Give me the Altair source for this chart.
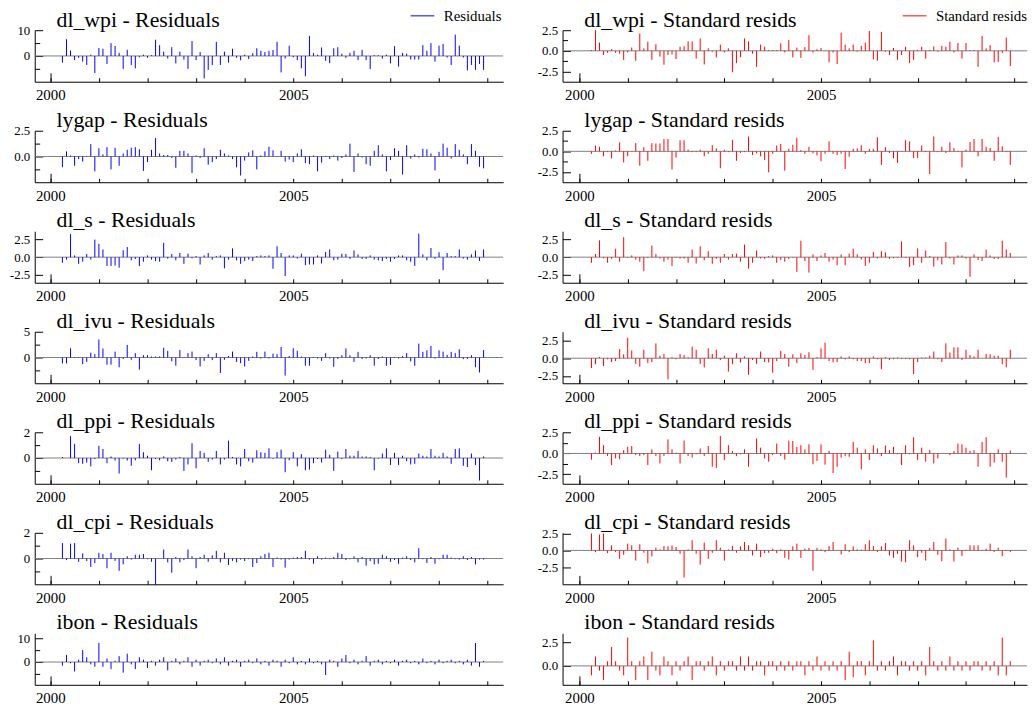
import altair as alt
import pandas as pd

FIRST_YEAR = 2000
FIRST_MONTH = 4

dl_wpi_res = [-2.6, 6.5, 2.1, -1.6, -0.7, -2.2, -3.5, 0.5, -6.6, 3.1,
              2.8, -3.1, 5.0, 3.9, 1.2, -5.0, 2.4, -3.5, -4.8, -0.5,
              0.5, -0.7, 0.3, 6.3, 4.2, 1.7, -1.0, 3.4, -2.9, 1.7,
              -1.4, -5.0, 5.8, -1.6, 1.5, -8.7, -5.4, -3.5, 5.5, -3.5,
              1.7, -2.6, 2.8, -0.7, -1.7, 0.5, -1.2, 1.1, 3.0, 2.0,
              1.5, 2.0, 2.3, 5.5, -6.4, -1.0, 4.0, -0.5, -1.6, -4.8,
              -7.9, 7.8, 1.1, 0.5, 3.3, -1.9, -2.8, 3.0, 3.4, 0.9,
              -0.7, 1.2, 2.0, -1.6, 2.4, -1.6, -5.1, 0.3, 0.3, -1.0,
              0.5, -2.9, 3.8, -4.1, 1.2, 0.9, -1.4, -1.4, -1.4, 4.2,
              2.0, 5.0, -2.2, 4.0, 4.7, -0.6, -3.5, 8.3, 4.0, -0.6,
              -5.6, -3.5, -5.4, -3.1, -5.4]
dl_wpi_std = [0.1, 2.5, 1.0, -0.5, -0.25, 0.2, -0.25, -0.35, -1.1, -0.2,
              0.4, -1.2, 2.1, 0.3, 1.1, -1.1, 0.8, -0.7, -1.7, -0.5,
              -0.45, -1.0, 0.5, 0.55, 1.15, 1.15, -0.95, 1.5, -1.65, 0.3,
              -0.1, -0.8, 0.75, -0.2, 0.3, -2.6, -1.5, -0.8, 1.5, 1.15,
              -0.35, -1.95, 0.75, 0.5, 0.1, 0.1, 0.1, 0.9, -0.2, 1.3,
              -0.8, 0.4, -0.85, 0.45, 1.9, -0.2, 0.2, 0.35, 0.05, -1.4,
              -0.2, -1.6, 2.2, 0.75, 0.3, 0.75, -0.1, 0.6, 1.0, 2.4,
              -1.05, -1.2, 2.3, -0.1, -0.5, 0.35, -1.1, -0.5, 0.5, -1.5,
              -1.1, 0.1, 0.5, -0.95, 0.1, 0.55, -0.1, 0.6, 0.5, 1.1,
              -0.2, 0.95, -0.95, 0.95, 0.1, 0.1, -1.95, 1.8, 0.3, 0.7,
              -1.4, -1.35, -0.25, 1.6, -1.85]
lygap_res = [-1.05, 0.5, 0.1, -0.9, -0.25, -0.5, 0.05, 1.2, -1.45, 0.8,
             0.2, 0.9, -1.25, 0.85, -0.9, 0.3, 0.65, 0.85, 0.9, 0.7,
             -1.4, -0.55, 0.65, 1.8, 0.3, 0.15, 0.15, -0.15, -1.1, 0.55,
             0.55, 0.3, -1.6, 0.1, -0.15, 0.8, -0.8, -0.55, -0.25, 0.65,
             0.3, 0.1, -0.25, -1.05, -1.85, -0.4, 0.4, 0.6, -1.25, 0.1,
             0.5, 0.95, 0.6, 0.05, 0.55, -0.5, -0.3, -0.55, 0.3, 0.7,
             -0.65, -0.75, 0.1, -1.45, -0.6, 0.05, -0.25, 0.1, -0.4, -0.15,
             0.2, 1.25, -1.5, 0.3, -0.1, -0.75, -0.9, 0.55, 1.1, 0.2,
             -1.45, -0.35, 0.8, 0.55, -1.75, 1.1, -0.2, 0.2, -0.1, 0.75,
             0.7, 0.3, -1.35, 0.45, 1.25, 0.85, -0.2, 1.2, 0.65, 0.2,
             -0.75, 1.2, 0.55, -1.0, -1.15]
lygap_std = [-0.3, 0.7, 0.55, -0.6, -0.1, -0.85, 0.1, 1.1, -1.35, -0.6,
             -0.05, 1.0, -1.75, 0.5, -1.15, 1.0, 0.95, 0.95, 1.5, 1.5,
             -2.2, -0.75, 1.35, 1.35, 0.2, -0.1, -0.1, 0.2, -0.6, -0.3,
             0.75, 0.35, -2.05, 0.2, -0.1, 1.4, -1.15, -0.2, -0.1, 1.8,
             -0.45, -0.25, -0.6, -1.05, -2.55, -0.3, 0.7, 0.9, -2.35, 0.3,
             0.8, 1.65, 0.15, -0.3, 0.55, -0.25, -0.5, -1.2, -0.3, 1.2,
             -0.3, -0.45, -0.3, -2.15, -0.65, 0.3, 0.35, 0.75, -0.3, 0.3,
             0.3, 1.7, -1.65, 0.5, -0.2, -0.85, -1.4, -0.05, 1.35, 1.2,
             -0.8, -0.8, 0.7, -0.1, -2.75, 1.8, -0.1, 0.55, -0.2, 1.1,
             0.4, -0.1, -1.95, 0.2, 1.15, 1.5, -0.6, 1.5, 0.55, 0.4,
             -1.15, 1.75, 0.6, -0.1, -1.65]
dl_s_res = [-0.8, -0.35, 3.3, 0.25, -0.95, -0.65, 0.45, -0.35, 2.5, 1.9,
            1.1, -1.25, -1.25, -1.2, -1.5, 1.0, 1.45, -0.45, -0.25, -1.25,
            -0.65, 0.25, -0.35, -0.55, -0.65, 2.05, -0.2, 0.45, -0.45, 0.6,
            -0.95, 0.5, -0.15, 0.15, -1.05, 0.25, 0.6, -0.35, 0.15, 0.25,
            -1.6, -0.35, 1.25, -0.45, -0.95, -0.55, -0.35, -0.55, 0.15, 0.25,
            0.15, 0.25, -1.65, 1.55, 0.6, -2.7, 0.25, 0.25, -0.2, 0.5,
            -1.15, -1.05, -1.05, 0.25, -0.9, 0.75, 1.1, -0.45, -0.35, 0.5,
            0.45, -0.25, 0.95, 0.4, -0.25, -0.25, 0.25, -0.35, -0.45, -0.55,
            -0.25, -0.65, -0.25, 0.25, 0.25, -0.45, -0.65, -1.25, 3.35, 0.4,
            -0.45, 1.3, -0.25, 0.7, -1.85, 0.6, 0.15, 0.15, 1.1, -0.2,
            -0.35, 0.4, 0.95, -0.55, 1.1]
dl_s_std = [-0.8, 0.45, 2.4, -0.15, -0.8, -0.25, 1.2, -0.65, 2.85, -0.1,
            0.25, -0.35, -0.65, -2.0, -0.1, 1.65, 0.45, -0.2, -0.65, -0.35,
            -1.25, -0.1, -0.2, -0.2, -0.8, 1.1, -0.9, 1.55, -0.45, 0.85,
            -0.95, -0.25, -0.8, 0.45, -0.35, 0.45, 0.5, -0.65, 1.8, -1.65,
            -0.8, 0.95, -0.2, -0.25, 0.15, 0.25, -0.8, -0.4, -0.65, -0.25,
            -0.1, -2.1, 2.35, -0.55, -2.2, 0.4, -0.55, 0.25, 0.6, -0.65,
            -0.35, -1.15, 0.4, -1.15, 0.5, 1.2, 0.4, -0.35, -1.25, -0.8,
            0.75, -0.2, 0.85, 0.7, -0.25, -0.15, -0.1, 2.25, -0.1, -1.4,
            -1.15, 1.25, -0.8, 0.95, 0.15, -1.35, -0.45, -1.05, 2.15, -0.2,
            -1.05, 0.25, 0.25, -0.2, -2.8, 0.4, -0.4, -0.55, 1.1, 0.25,
            -0.25, -0.25, 2.35, 1.1, 0.6]
dl_ivu_res = [-1.15, -1.15, 1.8, 0.1, -0.1, -1.3, -0.85, 0.95, 0.65, 3.5,
              1.75, -1.4, -1.4, 1.15, -1.9, -0.3, 2.45, -0.45, 0.85, -2.35,
              0.45, 0.45, 0.2, 0.2, 0.2, 1.9, 1.3, -0.75, -1.6, 1.45,
              -0.1, 0.85, 1.15, -0.5, -1.75, -0.65, 0.65, -0.5, 0.85, -3.0,
              -0.45, 0.3, 1.15, -0.85, -1.1, -1.75, -0.65, 0.2, 1.1, -0.2,
              1.15, -0.2, 0.75, 0.65, 2.05, -3.5, 0.3, 1.8, 1.3, 0.2,
              -1.6, -1.6, 0.1, -0.2, -0.65, 0.85, -0.2, -1.8, -0.3, 0.45,
              1.75, 0.45, -0.85, 1.1, -0.3, -0.2, 0.45, -1.6, -0.3, 0.2,
              -1.6, -1.45, 0.1, -0.2, 0.3, 0.85, -0.75, -1.6, 2.7, 1.1,
              1.4, 2.25, -0.2, 1.4, 1.15, 0.5, 1.1, 0.85, 1.6, -0.3,
              -0.3, 0.45, -1.9, -2.9, 1.45]
dl_ivu_std = [-1.4, -0.85, 0.15, -1.1, -0.15, -0.55, -0.4, 1.3, 0.55, 2.9,
              1.1, -0.8, -1.2, 1.2, -0.7, -0.55, 2.1, 0.35, 0.6, -3.0,
              0.15, -0.15, 0.6, 0.45, 0.15, 1.65, 1.2, -0.8, -1.3, 1.4,
              0.6, 1.2, -0.25, 0.35, -1.9, -0.85, 0.7, -0.6, 0.25, -2.35,
              -0.25, -0.8, 0.95, -0.55, -0.6, -2.05, -0.4, 1.05, 0.6, -1.2,
              0.55, -0.7, 0.7, 0.45, 0.85, -1.65, 0.15, 1.4, 2.2, -0.4,
              -0.6, -0.55, 0.25, -0.15, 0.25, -0.15, -0.4, -0.4, -0.7, -0.7,
              0.25, -0.15, -1.55, 0.15, -0.25, -0.15, 0.1, -0.1, -0.1, -0.15,
              -2.25, -0.55, 0.1, 0.1, 0.35, 0.95, -0.15, -0.55, 2.1, 0.8,
              1.55, 1.55, -0.25, 1.2, 0.45, 0.25, 1.2, 0.0, 0.6, 0.55,
              0.35, 0.35, -0.85, -1.3, 1.2]
dl_ppi_res = [0.08, 0.0, 1.7, 1.1, -0.4, -0.45, -0.35, -0.65, -0.08, 0.95,
              0.7, -0.4, 0.12, -0.2, -1.2, -0.05, -0.2, -0.6, -0.18, 1.1,
              0.45, 0.18, -0.95, -0.08, -0.18, 0.12, -0.25, -0.3, -0.12, 0.08,
              -1.0, -0.5, 1.15, -0.8, 0.55, 0.4, -0.3, -0.12, 0.55, -0.5,
              -0.12, 1.35, 0.08, -0.5, -0.65, 0.7, -0.25, -0.35, 0.6, 0.45,
              0.4, 0.75, -0.05, 0.45, 0.65, -1.1, -0.18, 0.45, -0.65, 0.3,
              -0.95, -0.9, -0.4, -0.08, -0.35, 0.65, 0.25, -1.0, 0.5, -0.08,
              0.7, 0.18, 0.18, 0.55, 0.12, 0.12, 0.08, -0.95, -0.05, 0.35,
              0.75, -0.55, 0.4, -0.55, 0.18, -0.25, -0.5, -0.45, 0.35, 0.18,
              0.12, 0.7, 0.18, 0.12, 0.4, 0.12, -0.45, 0.7, 0.75, -0.6,
              -0.7, 0.35, -0.55, -1.75, 0.12]
dl_ppi_std = [-0.75, 0.1, 2.0, 1.0, -0.3, -1.4, -0.6, -0.7, 0.4, 0.8,
              0.9, -0.2, -0.3, -0.2, -1.4, 0.5, -0.3, -1.2, -0.3, 1.7,
              0.5, 0.1, -1.2, 1.55, -0.3, -0.5, -0.1, 0.6, -0.3, 0.9,
              -1.6, -1.75, 2.1, -0.8, 1.0, 0.3, -0.3, -0.1, 0.5, -1.6,
              0.0, 1.8, 0.7, -0.6, -1.0, -0.2, 1.2, -0.3, -0.75, 1.55,
              1.5, 0.8, 1.0, 0.5, 1.1, -1.3, -0.9, 1.1, -1.35, 0.3,
              -2.35, -1.6, -0.5, -0.3, -0.4, 1.4, 0.7, -1.9, 0.5, -0.8,
              1.0, 0.6, -0.3, 0.95, 0.4, 0.8, -0.1, -1.4, 1.0, -0.1,
              1.95, -0.8, 0.7, -1.0, 0.4, -1.2, -0.6, 0.0, 0.0, -0.2,
              0.3, 1.2, 1.1, 0.7, 0.3, 0.4, -1.6, 1.4, 1.95, -1.6,
              -1.1, 0.5, -1.0, -2.9, 0.35]
dl_cpi_res = [1.2, -0.12, 1.15, 1.2, -0.25, 0.4, -0.2, -0.65, -0.35, 0.45,
              0.35, -0.75, 0.45, -0.18, -0.95, -0.45, 0.18, -0.08, 0.3, 0.3,
              0.35, -0.05, -0.25, -2.05, 0.0, 0.7, -0.3, -1.1, 0.12, -0.3,
              -0.12, 0.7, 0.18, -0.75, 0.12, 0.3, -0.25, 0.25, 0.6, -0.3,
              0.45, -0.5, -0.18, -0.3, -0.08, -0.2, -0.05, -0.65, -0.35, 0.18,
              0.35, 0.45, -0.65, 0.08, -0.08, -0.7, -0.08, 0.08, 0.12, 0.12,
              0.6, -0.08, -0.4, 0.18, -0.08, 0.08, -0.05, 0.12, 0.45, 0.35,
              -0.12, -0.05, 0.18, -0.3, 0.12, -0.55, -0.2, -0.45, -0.4, 0.3,
              0.18, -0.25, -0.12, -0.4, 0.08, 0.18, -0.12, -0.3, 0.8, -0.05,
              -0.35, 0.12, -0.4, -0.05, 0.3, 0.3, 0.08, -0.05, -0.08, 0.18,
              -0.12, 0.12, -0.45, -0.08, -0.08]
dl_cpi_std = [2.5, -0.25, 2.35, 2.5, -0.4, 0.75, -0.25, -1.25, -0.65, 1.0,
              0.75, -1.5, 0.9, -0.35, -1.9, -0.9, 0.4, 0.15, 0.65, 0.6,
              0.75, 0.5, -0.5, -4.0, 0.15, 1.5, -0.5, -2.1, 1.15, -1.25,
              -0.35, 1.5, 0.4, -1.5, 0.15, 0.65, -0.35, 0.6, 1.25, 0.75,
              -0.75, 1.0, -1.0, -0.4, -0.35, 0.25, -0.4, 0.15, -1.1, -1.35,
              0.6, 1.0, -1.1, 0.25, 0.35, -3.0, 0.35, 0.15, -0.25, 0.65,
              1.25, 0.0, -0.6, 0.9, -0.25, 0.6, 0.15, 0.1, 0.9, 1.5,
              0.65, -0.25, 0.6, 1.1, -0.75, -1.1, -0.5, -1.65, -1.75, 1.5,
              0.75, -1.0, -0.35, -1.5, 0.35, 1.25, -0.65, -1.6, 1.75, 0.15,
              -1.65, 0.4, -0.85, 0.1, 0.75, 0.75, 0.75, -0.1, 0.25, 1.0,
              -0.25, 0.4, -0.85, -0.1, -0.25]
ibon_res = [-1.5, 3.0, -0.5, -4.0, 1.0, 5.0, 2.0, -1.0, -2.0, 8.0,
            -2.0, 1.5, -3.0, 0.5, 2.5, -4.5, 3.5, -1.0, -3.0, 2.0,
            1.0, -2.5, 0.5, -1.5, 1.0, 2.0, -3.5, 0.5, 1.5, -1.0,
            0.5, 2.0, -2.0, 1.0, -1.5, 0.5, 1.0, -0.5, 1.5, -1.0,
            2.0, -1.5, 0.5, 1.0, -2.0, 0.5, 1.0, -0.5, 1.5, -1.0,
            0.5, -1.5, 1.0, 0.5, -2.0, 1.0, -0.5, 2.0, -1.0, 0.5,
            -1.0, 1.5, -0.5, 0.5, -1.0, -5.5, 1.0, 0.5, -2.0, 1.5,
            3.0, -0.5, 1.0, -1.0, 0.5, 2.5, -1.5, 0.5, 1.0, -1.0,
            0.5, -0.5, 1.0, -1.5, 0.5, 1.0, -0.5, 0.5, -1.0, 1.5,
            -0.5, 0.5, -1.0, 1.0, -0.5, 0.5, 1.0, -0.5, 0.5, -1.0,
            1.0, -1.5, 8.0, -2.0, 0.5]
ibon_std = [-1.0, 1.0, -0.5, -1.5, 0.5, 2.0, 0.5, -0.5, -1.0, 3.0,
            0.5, -1.5, 0.5, 1.0, -1.5, 1.5, -0.5, -1.0, 1.0, 0.5,
            -1.0, 0.5, -0.5, 0.5, 1.0, -1.5, 0.5, 0.5, -0.5, 0.5,
            1.0, -1.0, 0.5, -0.5, 0.5, 0.5, -0.5, 1.0, -0.5, 1.0,
            -0.5, 0.5, 0.5, -1.0, 0.5, 0.5, -0.5, 0.5, -0.5, 0.5,
            -0.5, 0.5, 0.5, -1.0, 0.5, -0.5, 1.0, -0.5, 0.5, -0.5,
            0.5, -0.5, 0.5, -1.5, 1.5, -1.2, 0.5, 0.5, -1.0, 0.5,
            2.7, -0.5, 0.5, -0.5, 0.5, 1.0, -1.0, 0.5, 0.5, -0.5,
            0.5, -0.5, 0.5, -1.0, 2.0, 0.5, -0.5, 0.5, -0.5, 1.0,
            -0.5, 0.5, -0.5, 0.5, -0.5, 0.5, 0.5, -0.5, 0.5, -0.5,
            0.5, -1.0, 3.0, -1.0, 0.5]

VARIABLES = ["dl_wpi", "lygap", "dl_s", "dl_ivu", "dl_ppi", "dl_cpi", "ibon"]
RESIDUALS = [dl_wpi_res, lygap_res, dl_s_res, dl_ivu_res, dl_ppi_res, dl_cpi_res, ibon_res]
STANDARD = [dl_wpi_std, lygap_std, dl_s_std, dl_ivu_std, dl_ppi_std, dl_cpi_std, ibon_std]
# (domain, labelled ticks, minor ticks, format)
RES_AXES = [
    ([-10, 10], [0, 10], [-5, 5], "d"),
    ([-2.5, 2.5], [0, 2.5], [-1.25, 1.25], ".1f"),
    ([-3.65, 3.7], [-2.5, 0, 2.5], [], ".1f"),
    ([-5, 5], [0, 5], [-2.5, 2.5], "d"),
    ([-2, 2], [0, 2], [-1, 1], "d"),
    ([-2, 2], [0, 2], [-1, 1], "d"),
    ([-9.6, 12.1], [0, 10], [-5, 5], "d"),
]
STD_AXES = [
    ([-3.75, 2.5], [-2.5, 0, 2.5], [-1.25, 1.25], ".1f"),
    ([-3.75, 2.5], [-2.5, 0, 2.5], [-1.25, 1.25], ".1f"),
    ([-3.65, 3.7], [-2.5, 0, 2.5], [], ".1f"),
    ([-3.55, 3.75], [-2.5, 0, 2.5], [], ".1f"),
    ([-3.65, 2.55], [-2.5, 0, 2.5], [-1.25, 1.25], ".1f"),
    ([-5, 2.6], [-2.5, 0, 2.5], [], ".1f"),
    ([-2.0, 3.45], [0, 2.5], [], ".1f"),
]
YEAR_TICKS = list(range(2000, 2010))
YEAR_LABELS = [2000, 2005]

FONT = "Liberation Serif"
BLUE = "#0000ff"
RED = "#ff0000"
LW, RW, H = 473, 469, 52
Y_EXT = 27
LABEL_SIZE = 13
LEFT_XDOM = [1999.68, 1999.68 + LW / 49.07]
RIGHT_XDOM = [1999.652, 1999.652 + RW / 48.8]


def label_expr(fmt):
    return "replace(format(datum.value, '" + fmt + "'), '\u2212', '-')"


def tick_axis(orient, offset, values, size, domain):
    return alt.Axis(orient=orient, offset=offset, values=values, tickSize=size,
                    labels=False, domain=domain, domainColor="black",
                    tickColor="black", grid=False, title=None,
                    minExtent=0, maxExtent=0)


def panel(title, values, axes, color, series, width, xdom, legend_x, title_offset):
    ydom, ylab, yminor, fmt = axes
    t = [FIRST_YEAR + (FIRST_MONTH - 1) / 12 + i / 12 for i in range(len(values))]
    df = pd.DataFrame({"t": t, "v": values, "s": [series] * len(values)})
    anchor = pd.DataFrame({"year": [2000.0], "zero": [0.0]})
    xs = alt.Scale(domain=xdom, nice=False, zero=False)
    ys = alt.Scale(domain=ydom, nice=False, zero=False)
    if legend_x is not None:
        legend = alt.Legend(orient="none", legendX=legend_x, legendY=-22, title=None,
                            symbolType="M-2,0L2,0", symbolSize=144, symbolStrokeWidth=1,
                            labelFont=FONT, labelFontSize=15, labelColor="black",
                            padding=0, labelOffset=14)
    else:
        legend = None
    zero = alt.Chart(anchor).mark_rule(color="#808080", strokeWidth=1).encode(
        y=alt.Y("zero:Q", scale=ys, axis=None),
    )
    spikes = alt.Chart(df).mark_rule(strokeWidth=1).encode(
        x=alt.X("t:Q", scale=xs, axis=alt.Axis(
            orient="bottom", values=YEAR_LABELS, format="d", ticks=False, domain=False,
            grid=False, labelFont=FONT, labelFontSize=15, labelColor="black",
            labelPadding=6, labelFlush=False, minExtent=21, maxExtent=21, title=None)),
        y=alt.Y("v:Q", scale=ys, axis=alt.Axis(
            orient="left", values=ylab, labelExpr=label_expr(fmt), ticks=False,
            domain=False, grid=False, labelFont=FONT, labelFontSize=LABEL_SIZE,
            labelColor="black", labelPadding=5, minExtent=Y_EXT, maxExtent=Y_EXT,
            title=None)),
        y2=alt.datum(0),
        color=alt.Color("s:N", scale=alt.Scale(range=[color]), legend=legend),
    )

    def holder(xaxis, yaxis):
        return alt.Chart(anchor).mark_point(opacity=0, size=1).encode(
            x=alt.X("year:Q", scale=xs, axis=xaxis),
            y=alt.Y("zero:Q", scale=ys, axis=yaxis),
        )

    ymajor = holder(None, tick_axis("right", -width, ylab, 8, True))
    yminor_l = holder(None, tick_axis("right", -width, yminor, 5, False))
    xminor = holder(tick_axis("top", -H, YEAR_TICKS, 4, True), None)
    xfirst = holder(tick_axis("top", -H, [2000], 9, False), None)
    # invisible label at the top of the range keeps every panel's bounds equal
    ytop = holder(None, alt.Axis(orient="right", offset=-width, values=[ydom[1]],
                                 ticks=False, domain=False, grid=False, labels=True,
                                 labelOpacity=0, labelFont=FONT,
                                 labelFontSize=LABEL_SIZE, title=None,
                                 minExtent=0, maxExtent=0))

    return alt.layer(zero, spikes, ymajor, yminor_l, xminor, xfirst, ytop).resolve_axis(
        x="independent", y="independent"
    ).properties(
        width=width, height=H,
        title=alt.TitleParams(title, anchor="start", frame="group", dx=22, font=FONT,
                              fontSize=22, fontWeight="normal", color="black",
                              offset=title_offset),
    )


panels = []
for k, name in enumerate(VARIABLES):
    first_row = k == 0
    off = -24 if first_row else -7
    panels.append(panel(name + " - Residuals", RESIDUALS[k], RES_AXES[k], BLUE,
                        "Residuals", LW, LEFT_XDOM, 384 if first_row else None, off))
    panels.append(panel(name + " - Standard resids", STANDARD[k], STD_AXES[k], RED,
                        "Standard resids", RW, RIGHT_XDOM, 348 if first_row else None, off))

chart = alt.concat(*panels, columns=2, spacing={"row": 6.5, "column": 32}).resolve_scale(
    color="independent"
).properties(
    padding={"top": -3, "left": 0, "right": 0, "bottom": 0}, background="white"
).configure_view(stroke=None)

chart.save("out.html", embed_options={"renderer": "svg", "actions": False})
